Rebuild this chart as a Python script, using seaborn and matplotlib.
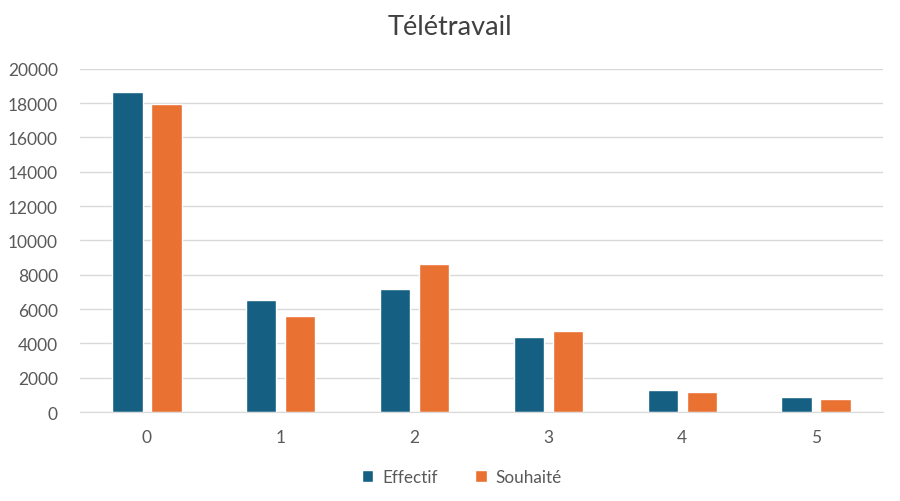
import matplotlib
matplotlib.use("Agg")
import matplotlib.pyplot as plt
import seaborn as sns
import pandas as pd

categories = ["0", "1", "2", "3", "4", "5"]
effectif = [18650, 6530, 7190, 4355, 1285, 860]
souhaite = [17950, 5580, 8650, 4740, 1185, 760]
series_names = ["Effectif", "Souhaité"]
colors = ["#156082", "#E97132"]

df = pd.DataFrame({
    "cat": categories * 2,
    "val": effectif + souhaite,
    "serie": [series_names[0]] * len(categories) + [series_names[1]] * len(categories),
})

sns.set_style("white")
plt.rcParams["font.family"] = ["Lato", "DejaVu Sans"]

fig = plt.figure(figsize=(9, 5.02), dpi=100)
ax = fig.add_axes([0.089, 0.177, 0.892, 0.684])
sns.barplot(data=df, x="cat", y="val", hue="serie", order=categories,
            hue_order=series_names, palette=colors, width=0.584, gap=0.23,
            ax=ax, legend=True, saturation=1)

ax.set_ylim(0, 20000)
ax.set_yticks(range(0, 20001, 2000))
ax.yaxis.grid(True, color="#D9D9D9", linewidth=1)
ax.set_axisbelow(True)
for s in ["top", "right", "left"]:
    ax.spines[s].set_visible(False)
ax.spines["bottom"].set_color("#D9D9D9")
ax.tick_params(axis="both", length=0, labelsize=12.5, colors="#595959")
ax.tick_params(axis="x", pad=12)
ax.tick_params(axis="y", pad=16)
ax.set_xlabel("")
ax.set_ylabel("")
fig.text(0.5, 0.945, "Télétravail", fontsize=19.5, color="#404040",
         ha="center", va="center")

handles, labels = ax.get_legend_handles_labels()
ax.get_legend().remove()
leg = fig.legend(handles, labels, loc="center", bbox_to_anchor=(0.513, 0.048), ncol=2,
                 frameon=False, fontsize=12.3, handlelength=0.7, handleheight=0.7,
                 columnspacing=2.2, handletextpad=0.5)
for t in leg.get_texts():
    t.set_color("#595959")

fig.savefig("out.png", dpi=100)
